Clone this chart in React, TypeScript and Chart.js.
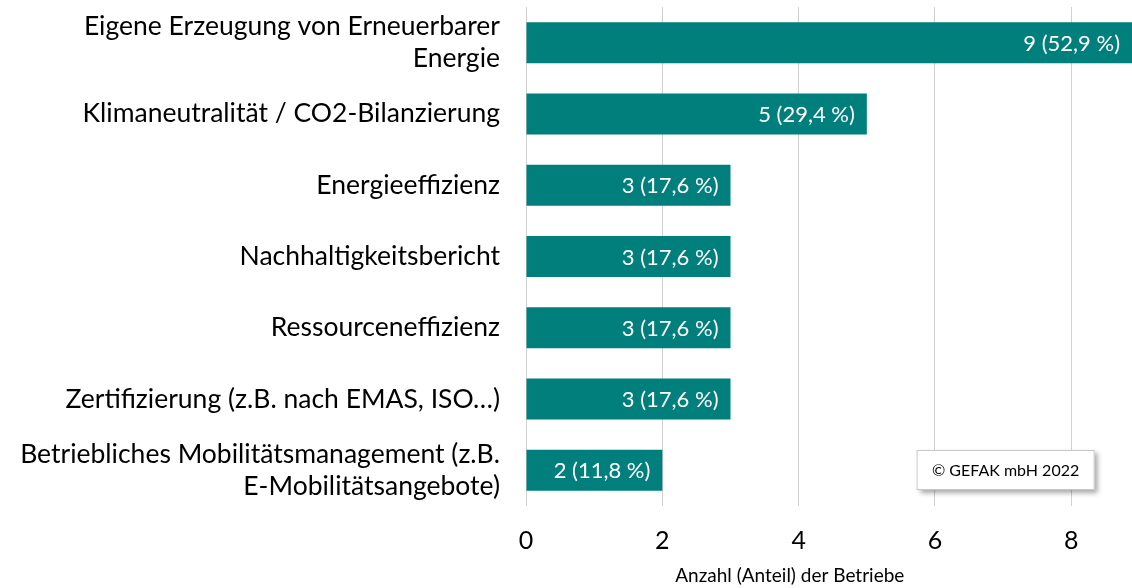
import React, { useEffect, useRef } from "react";
import { Chart, registerables } from "chart.js";

Chart.register(...registerables);

const categories: (string | string[])[] = [
  ["Eigene Erzeugung von Erneuerbarer", "Energie"],
  "Klimaneutralität / CO2-Bilanzierung",
  "Energieeffizienz",
  "Nachhaltigkeitsbericht",
  "Ressourceneffizienz",
  "Zertifizierung (z.B. nach EMAS, ISO…)",
  ["Betriebliches Mobilitätsmanagement (z.B.", "E-Mobilitätsangebote)"],
];
const counts = [9, 5, 3, 3, 3, 3, 2];
const shares = ["52,9", "29,4", "17,6", "17,6", "17,6", "17,6", "11,8"];
const xTicks = [0, 2, 4, 6, 8];
const axisTitle = "Anzahl (Anteil) der Betriebe";
const copyright = "© GEFAK mbH 2022";

const FONT = "Lato, 'Open Sans', sans-serif";
const TEAL = "#007f7c";

const overlayPlugin = {
  id: "overlay",
  afterDatasetsDraw(chart: any) {
    const ctx = chart.ctx;
    const meta = chart.getDatasetMeta(0);
    const area = chart.chartArea;
    ctx.save();
    ctx.font = `22px ${FONT}`;
    ctx.fillStyle = "#ffffff";
    ctx.textAlign = "right";
    ctx.textBaseline = "middle";
    meta.data.forEach((bar: any, i: number) => {
      const end = Math.min(bar.x, area.right);
      ctx.fillText(`${counts[i]} (${shares[i]} %)`, end - 12, bar.y + 1);
    });
    ctx.restore();
  },
  afterDraw(chart: any) {
    const ctx = chart.ctx;
    const area = chart.chartArea;
    const xs = chart.scales.x;
    ctx.save();
    // axis title
    ctx.font = `19px ${FONT}`;
    ctx.fillStyle = "#000000";
    ctx.textAlign = "center";
    ctx.textBaseline = "middle";
    ctx.fillText(axisTitle, xs.getPixelForValue(3.87), 576);
    // copyright box
    const bx = xs.getPixelForValue(5.73);
    const by = area.bottom - 56;
    const bw = 178;
    const bh = 40;
    ctx.shadowColor = "rgba(0,0,0,0.35)";
    ctx.shadowBlur = 5;
    ctx.shadowOffsetX = 3;
    ctx.shadowOffsetY = 3;
    ctx.fillStyle = "#ffffff";
    ctx.fillRect(bx, by, bw, bh);
    ctx.shadowColor = "transparent";
    ctx.strokeStyle = "#c8c8c8";
    ctx.lineWidth = 1;
    ctx.strokeRect(bx + 0.5, by + 0.5, bw - 1, bh - 1);
    ctx.font = `16px ${FONT}`;
    ctx.fillStyle = "#000000";
    ctx.fillText(copyright, bx + bw / 2, by + bh / 2 + 1);
    ctx.restore();
  },
};

export default function App() {
  const ref = useRef<HTMLCanvasElement>(null);
  useEffect(() => {
    if (!ref.current) return;
    const chart = new Chart(ref.current, {
      type: "bar",
      data: {
        labels: categories,
        datasets: [
          {
            data: counts,
            backgroundColor: TEAL,
            borderWidth: 0,
            categoryPercentage: 0.575,
            barPercentage: 1,
          },
        ],
      },
      options: {
        indexAxis: "y",
        animation: false,
        responsive: false,
        maintainAspectRatio: false,
        layout: { padding: { top: 7, right: 0, left: 0, bottom: 0 } },
        plugins: {
          legend: { display: false },
          tooltip: { enabled: false },
          title: { display: false },
        },
        scales: {
          x: {
            min: 0,
            max: 8.89,
            afterBuildTicks: (scale: any) => {
              scale.ticks = xTicks.map((v) => ({ value: v }));
            },
            afterFit: (scale: any) => {
              scale.height = 82;
              scale.paddingLeft = 0;
              scale.paddingRight = 0;
            },
            ticks: {
              font: { family: FONT, size: 25 },
              color: "#000000",
              padding: 20,
            },
            grid: {
              color: "#d0d0d0",
              drawTicks: false,
              lineWidth: 1,
            },
            border: { display: false },
          },
          y: {
            afterFit: (scale: any) => {
              scale.width = 526;
              scale.paddingTop = 0;
              scale.paddingBottom = 0;
            },
            ticks: {
              font: { family: FONT, size: 26.5, lineHeight: 1.22 },
              color: "#000000",
              padding: 26,
            },
            grid: { display: false, drawTicks: false },
            border: { display: false },
          },
        },
      },
      plugins: [overlayPlugin],
    });
    return () => chart.destroy();
  }, []);
  return (
    <div style={{ position: "fixed", left: 0, top: 0, width: 1132, height: 588, background: "#fff" }}>
      <canvas ref={ref} width={1132} height={588} style={{ width: 1132, height: 588 }} />
    </div>
  );
}
